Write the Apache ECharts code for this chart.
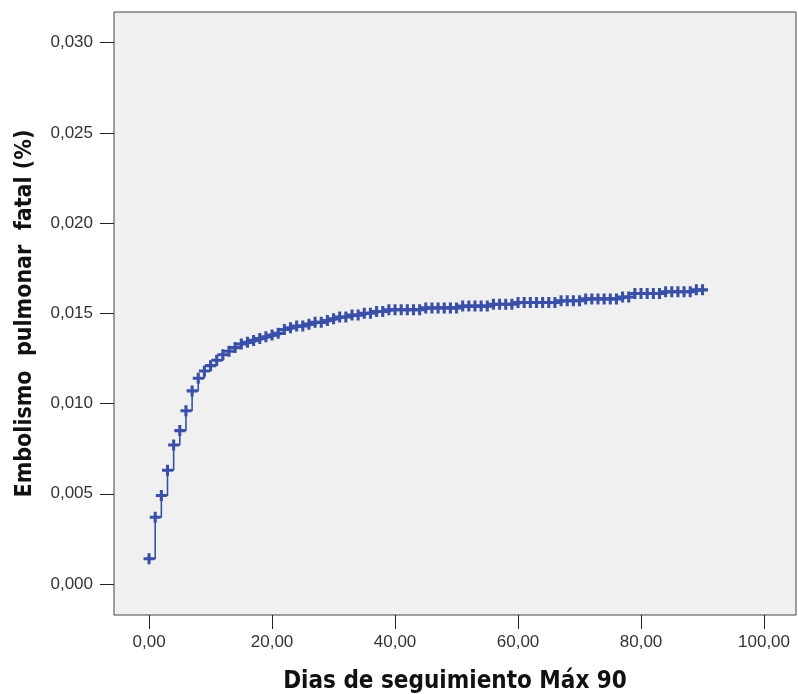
<!DOCTYPE html>
<html>
<head>
<meta charset="utf-8">
<script src="https://cdn.jsdelivr.net/npm/echarts@6/dist/echarts.min.js"></script>
<style>
html, body { margin: 0; padding: 0; background: #fff; }
#main { width: 798px; height: 694px; }
</style>
</head>
<body>
<div id="main"></div>
<script>
// dias de seguimiento (0..90)
const days = [
  0, 1, 2, 3, 4, 5, 6, 7, 8, 9,
  10, 11, 12, 13, 14, 15, 16, 17, 18, 19,
  20, 21, 22, 23, 24, 25, 26, 27, 28, 29,
  30, 31, 32, 33, 34, 35, 36, 37, 38, 39,
  40, 41, 42, 43, 44, 45, 46, 47, 48, 49,
  50, 51, 52, 53, 54, 55, 56, 57, 58, 59,
  60, 61, 62, 63, 64, 65, 66, 67, 68, 69,
  70, 71, 72, 73, 74, 75, 76, 77, 78, 79,
  80, 81, 82, 83, 84, 85, 86, 87, 88, 89,
  90
];
// incidencia acumulada
const cumIncidence = [
  0.0014, 0.0037, 0.0049, 0.0063, 0.0077, 0.0085, 0.0096, 0.0107, 0.0114, 0.0118,
  0.0121, 0.0124, 0.0127, 0.0129, 0.0131, 0.0133, 0.0134, 0.0135, 0.0136, 0.0137,
  0.0138, 0.0139, 0.0141, 0.0142, 0.0143, 0.0143, 0.0144, 0.0145, 0.0145, 0.0146,
  0.0147, 0.0148, 0.0148, 0.0149, 0.0149, 0.0150, 0.0150, 0.0151, 0.0151, 0.0152,
  0.0152, 0.0152, 0.0152, 0.0152, 0.0152, 0.0153, 0.0153, 0.0153, 0.0153, 0.0153,
  0.0153, 0.0154, 0.0154, 0.0154, 0.0154, 0.0154, 0.0155, 0.0155, 0.0155, 0.0155,
  0.0156, 0.0156, 0.0156, 0.0156, 0.0156, 0.0156, 0.0156, 0.0157, 0.0157, 0.0157,
  0.0157, 0.0158, 0.0158, 0.0158, 0.0158, 0.0158, 0.0158, 0.0159, 0.0159, 0.0161,
  0.0161, 0.0161, 0.0161, 0.0161, 0.0162, 0.0162, 0.0162, 0.0162, 0.0162, 0.0163,
  0.0163
];
const xTicks = [0, 20, 40, 60, 80, 100];
const yTicks = [0, 0.005, 0.010, 0.015, 0.020, 0.025, 0.030];

const myChart = echarts.init(document.getElementById('main'));

// cruz gruesa como marcador de censura
const plusPath = 'path://M3.6,0h2.8v3.6h3.6v2.8h-3.6v3.6h-2.8v-3.6h-3.6v-2.8h3.6z';

const option = {
  animation: false,
  backgroundColor: '#ffffff',
  grid: {
    left: 114, right: 2, top: 12, bottom: 79,
    outerBoundsMode: 'none',
    show: true,
    backgroundColor: '#f0f0f0',
    borderColor: '#444',
    borderWidth: 1
  },
  xAxis: {
    type: 'value',
    min: -5.7,
    max: 105.2,
    name: 'Dias de seguimiento Máx 90',
    nameLocation: 'middle',
    nameGap: 55,
    nameTextStyle: { fontFamily: 'DejaVu Sans Condensed', fontWeight: 'bold', fontSize: 24, color: '#111' },
    axisLine: { show: false, onZero: false },
    splitLine: { show: false },
    axisTick: { show: true, length: 14, customValues: xTicks, lineStyle: { color: '#222', width: 1 } },
    axisLabel: {
      customValues: xTicks,
      margin: 19,
      fontFamily: 'Liberation Sans',
      fontSize: 17,
      color: '#333',
      formatter: v => v.toFixed(2).replace('.', ',')
    }
  },
  yAxis: {
    type: 'value',
    min: -0.00172,
    max: 0.0317,
    name: 'Embolismo  pulmonar  fatal (%)',
    nameLocation: 'middle',
    nameGap: 77,
    nameRotate: 90,
    nameTextStyle: { fontFamily: 'DejaVu Sans Condensed', fontWeight: 'bold', fontSize: 23, color: '#111' },
    axisLine: { show: false, onZero: false },
    splitLine: { show: false },
    axisTick: { show: true, length: 14, customValues: yTicks, lineStyle: { color: '#222', width: 1 } },
    axisLabel: {
      customValues: yTicks,
      margin: 21,
      fontFamily: 'Liberation Sans',
      fontSize: 17,
      color: '#333',
      formatter: v => v.toFixed(3).replace('.', ',')
    }
  },
  series: [
    {
      type: 'line',
      step: 'end',
      data: days.map((d, i) => [d, cumIncidence[i]]),
      showSymbol: true,
      showAllSymbol: true,
      symbol: plusPath,
      symbolSize: 11,
      itemStyle: { color: '#3a50a8' },
      lineStyle: { color: '#3a50a8', width: 1.6 }
    }
  ]
};

myChart.setOption(option);
window.onresize = function() {
  myChart && myChart.resize();
};
</script>
</body>
</html>
